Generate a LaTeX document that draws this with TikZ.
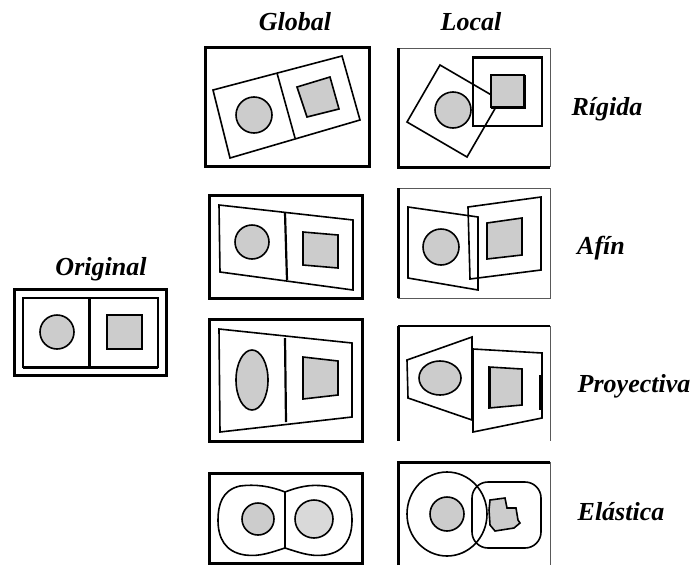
\documentclass[tikz,border=0pt]{standalone}
\usepackage{fontspec}
\setmainfont{Liberation Serif}
\begin{document}
\begin{tikzpicture}[x=1pt,y=-1pt,
  lab/.style={font=\fontsize{26}{28}\selectfont\bfseries\itshape, inner sep=0pt, anchor=base},
  heavy/.style={line width=3pt},
  mid/.style={line width=2.2pt},
  light/.style={line width=1pt, draw=black!65},
  shp/.style={line width=1.6pt, line join=miter},
  gfill/.style={fill=gray!40},
  lfill/.style={fill=gray!30}]
\useasboundingbox (0,0) rectangle (695,565);

% ---------- Original ----------
\draw[heavy] (14,289) rectangle (166,375);
\draw[shp] (23,298) rectangle (158,367);
\draw[heavy] (23,367) -- (158,367);
\draw[heavy] (89,298) -- (89,367);
\draw[shp,gfill] (57,332) circle (17);
\draw[shp,gfill] (107,315) rectangle (142,349);
\draw[mid] (107,315) -- (142,315);

% ---------- Global Rigida ----------
\draw[heavy] (205,47) rectangle (369,166);
\draw[shp] (213,90) -- (342,56) -- (360,120) -- (230,158) -- cycle;
\draw[shp] (277,73) -- (295,138);
\draw[shp,gfill] (254,115) circle (18);
\draw[shp,gfill] (297,87) -- (330,77) -- (339,109) -- (307,117) -- cycle;

% ---------- Local Rigida ----------
\draw[light] (398,48) -- (550,48) -- (550,167);
\draw[heavy] (398,48) -- (398,167) -- (550,167);
\draw[shp] (440,65) -- (500,100) -- (467,157) -- (407,122) -- cycle;
\draw[shp,gfill] (453,110) circle (18);
\draw[shp] (473,57) rectangle (542,126);
\draw[heavy] (473,57) -- (542,57);
\draw[shp,gfill] (491,75) rectangle (524,107);
\draw[heavy] (524,75) -- (524,107) -- (491,107);

% ---------- Global Afin ----------
\draw[heavy] (209,195) rectangle (362,298);
\draw[shp] (219,205) -- (353,220) -- (353,290) -- (220,272) -- cycle;
\draw[mid] (285,213) -- (287,280);
\draw[shp,gfill] (252,242) circle (17);
\draw[shp,gfill] (303,232) -- (338,235) -- (338,268) -- (303,265) -- cycle;

% ---------- Local Afin ----------
\draw[light] (398,188) -- (550,188) -- (550,298) -- (398,298);
\draw[heavy] (398,188) -- (398,298);
\draw[shp] (408,207) -- (478,217) -- (478,290) -- (408,278) -- cycle;
\draw[shp] (468,207) -- (541,197) -- (541,270) -- (470,279) -- cycle;
\draw[shp,gfill] (441,247) circle (18);
\draw[shp,gfill] (487,223) -- (522,218) -- (522,255) -- (487,259) -- cycle;

% ---------- Global Proyectiva ----------
\draw[heavy] (209,319) rectangle (362,441);
\draw[shp] (219,329) -- (352,343) -- (352,417) -- (220,432) -- cycle;
\draw[mid] (285,338) -- (286,422);
\draw[shp,gfill] (252,380) ellipse [x radius=16, y radius=30];
\draw[shp,gfill] (303,357) -- (338,361) -- (338,395) -- (303,399) -- cycle;

% ---------- Local Proyectiva ----------
\draw[light] (398,326) -- (550,326) -- (550,441);
\draw[line width=1.6pt] (398,326) -- (550,326);
\draw[heavy] (398,326) -- (398,441);
\draw[shp] (407,360) -- (472,337) -- (472,420) -- (408,398) -- cycle;
\draw[shp] (473,349) -- (542,353) -- (542,418) -- (473,432) -- cycle;
\draw[mid] (540,375) -- (540,410);
\draw[shp,gfill] (440,378) ellipse [x radius=21, y radius=17];
\draw[shp,gfill] (489,367) -- (522,369) -- (522,405) -- (489,408) -- cycle;
\draw[heavy] (489,367) -- (489,408);

% ---------- Global Elastica ----------
\draw[heavy] (209,473) rectangle (362,563);
\draw[shp] (285,492) .. controls (270,486) and (255,484) .. (240,486)
  .. controls (222,490) and (218,505) .. (218,520)
  .. controls (218,538) and (225,552) .. (245,555)
  .. controls (260,557) and (272,552) .. (285,548)
  .. controls (298,552) and (310,557) .. (325,555)
  .. controls (345,552) and (352,538) .. (352,520)
  .. controls (352,502) and (345,488) .. (325,486)
  .. controls (310,484) and (298,487) .. (285,492) -- cycle;
\draw[shp] (285,492) -- (285,548);
\draw[shp,gfill] (258,519) circle (16);
\draw[shp,lfill] (314,519) circle (19);

% ---------- Local Elastica ----------
\draw[light] (550,462) -- (550,565);
\draw[heavy] (398,565) -- (398,462) -- (550,462);
\draw[shp] (447,514) ellipse [x radius=40, y radius=42];
\draw[shp, rounded corners=16] (472,482) rectangle (541,548);
\draw[shp,gfill] (447,514) circle (17);
\draw[shp,gfill] (490,500) -- (505,498) -- (507,508) -- (516,508) -- (518,520)
  -- (520,523) -- (514,528) -- (495,531) -- (490,525) -- (489,510) -- cycle;

% ---------- Labels ----------
\node[lab] (tglobal) at (295,30) {Global};
\node[lab] (tlocal) at (471,30) {Local};
\node[lab] (trigida) at (607,115) {Rígida};
\node[lab] (tafin) at (601,254) {Afín};
\node[lab] (tproy) at (634,392) {Proyectiva};
\node[lab] (telas) at (621,520) {Elástica};
\node[lab] (torig) at (101,275) {Original};
\end{tikzpicture}
\end{document}
